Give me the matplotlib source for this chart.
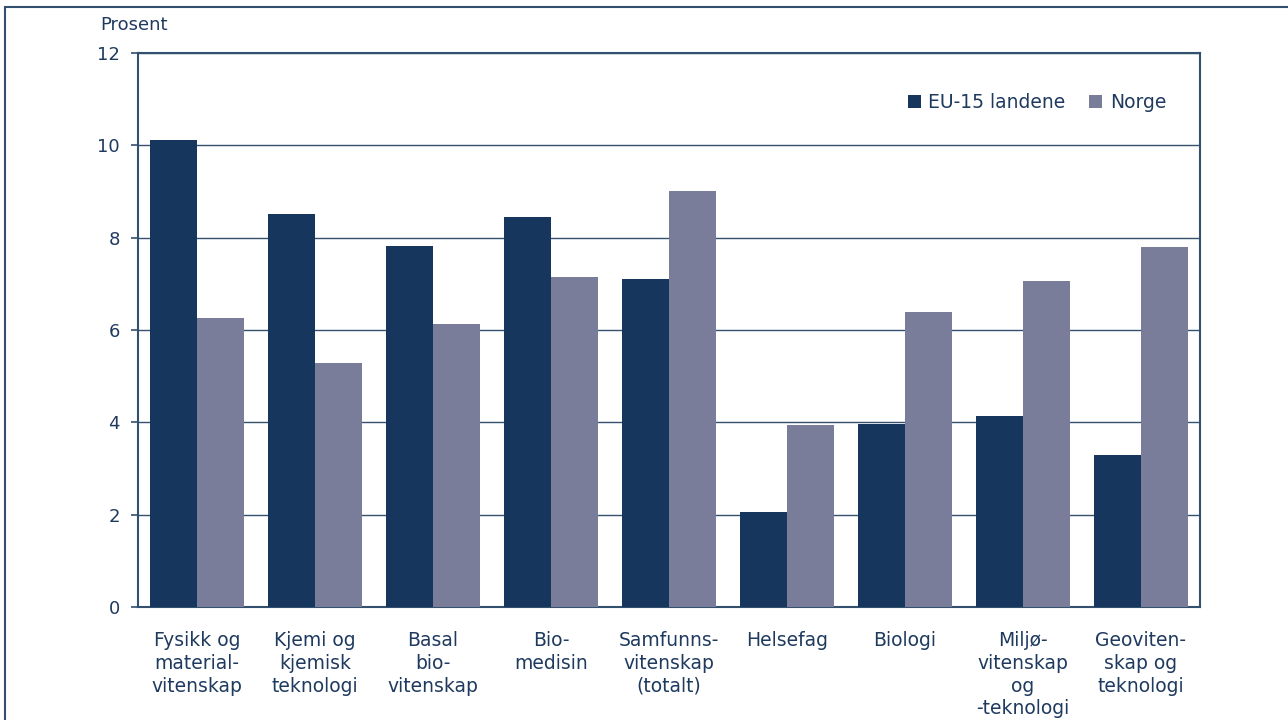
import numpy as np
import matplotlib.pyplot as plt
from matplotlib.patches import Rectangle

# data
kategorier = ["Fysikk og\nmaterial-\nvitenskap", "Kjemi og\nkjemisk\nteknologi",
              "Basal\nbio-\nvitenskap", "Bio-\nmedisin", "Samfunns-\nvitenskap\n(totalt)",
              "Helsefag", "Biologi", "Miljø-\nvitenskap\nog\n-teknologi",
              "Geoviten-\nskap og\nteknologi"]
eu15 = [10.12, 8.52, 7.82, 8.44, 7.11, 2.06, 3.96, 4.14, 3.29]
norge = [6.27, 5.28, 6.14, 7.15, 9.01, 3.95, 6.40, 7.06, 7.79]
y_ticks = [0, 2, 4, 6, 8, 10, 12]

farge_eu = "#17365d"
farge_no = "#7a7d99"
tekst = "#1f3a5f"
linje = "#34506f"

plt.rcParams['font.family'] = ['DejaVu Sans']
plt.rcParams['font.size'] = 13

fig = plt.figure(figsize=(12.88, 7.2), dpi=100)
ax = fig.add_axes([138/1288, 113/720, 1062/1288, 554/720])

x = np.arange(len(kategorier))
b = 0.4
ax.bar(x - b/2, eu15, width=b, color=farge_eu, label="EU-15 landene", zorder=3)
ax.bar(x + b/2, norge, width=b, color=farge_no, label="Norge", zorder=3)

ax.set_xlim(-0.5, len(kategorier) - 0.5)
ax.set_ylim(0, 12)
ax.set_yticks(y_ticks)
ax.yaxis.grid(True, color=linje, linewidth=1, zorder=0)
ax.tick_params(axis='y', length=5, width=1.2, color=linje, labelcolor=tekst,
               labelsize=13, pad=8)
ax.set_xticks(x)
ax.set_xticklabels(kategorier, color=tekst, fontsize=13.5, linespacing=1.24)
ax.tick_params(axis='x', length=0, pad=17.5)
for s in ax.spines.values():
    s.set_color(linje)
    s.set_linewidth(1.5)

leg = ax.legend(loc='upper right', bbox_to_anchor=(0.984, 0.958), ncol=2, frameon=False,
                handlelength=0.7, handleheight=0.7, handletextpad=0.4,
                columnspacing=1.25, fontsize=13.5)
for t in leg.get_texts():
    t.set_color(tekst)

fig.text(100/1288, 1 - 25/720, "Prosent", color=tekst, fontsize=13, va='center')

# ramme rundt figuren (bare venstre og topp synlig)
fig.patches.append(Rectangle((5/1288, -0.5), 2, 1.5 - 7/720, transform=fig.transFigure,
                             fill=False, edgecolor=linje, linewidth=1.5))

fig.savefig("out.png", dpi=100)
